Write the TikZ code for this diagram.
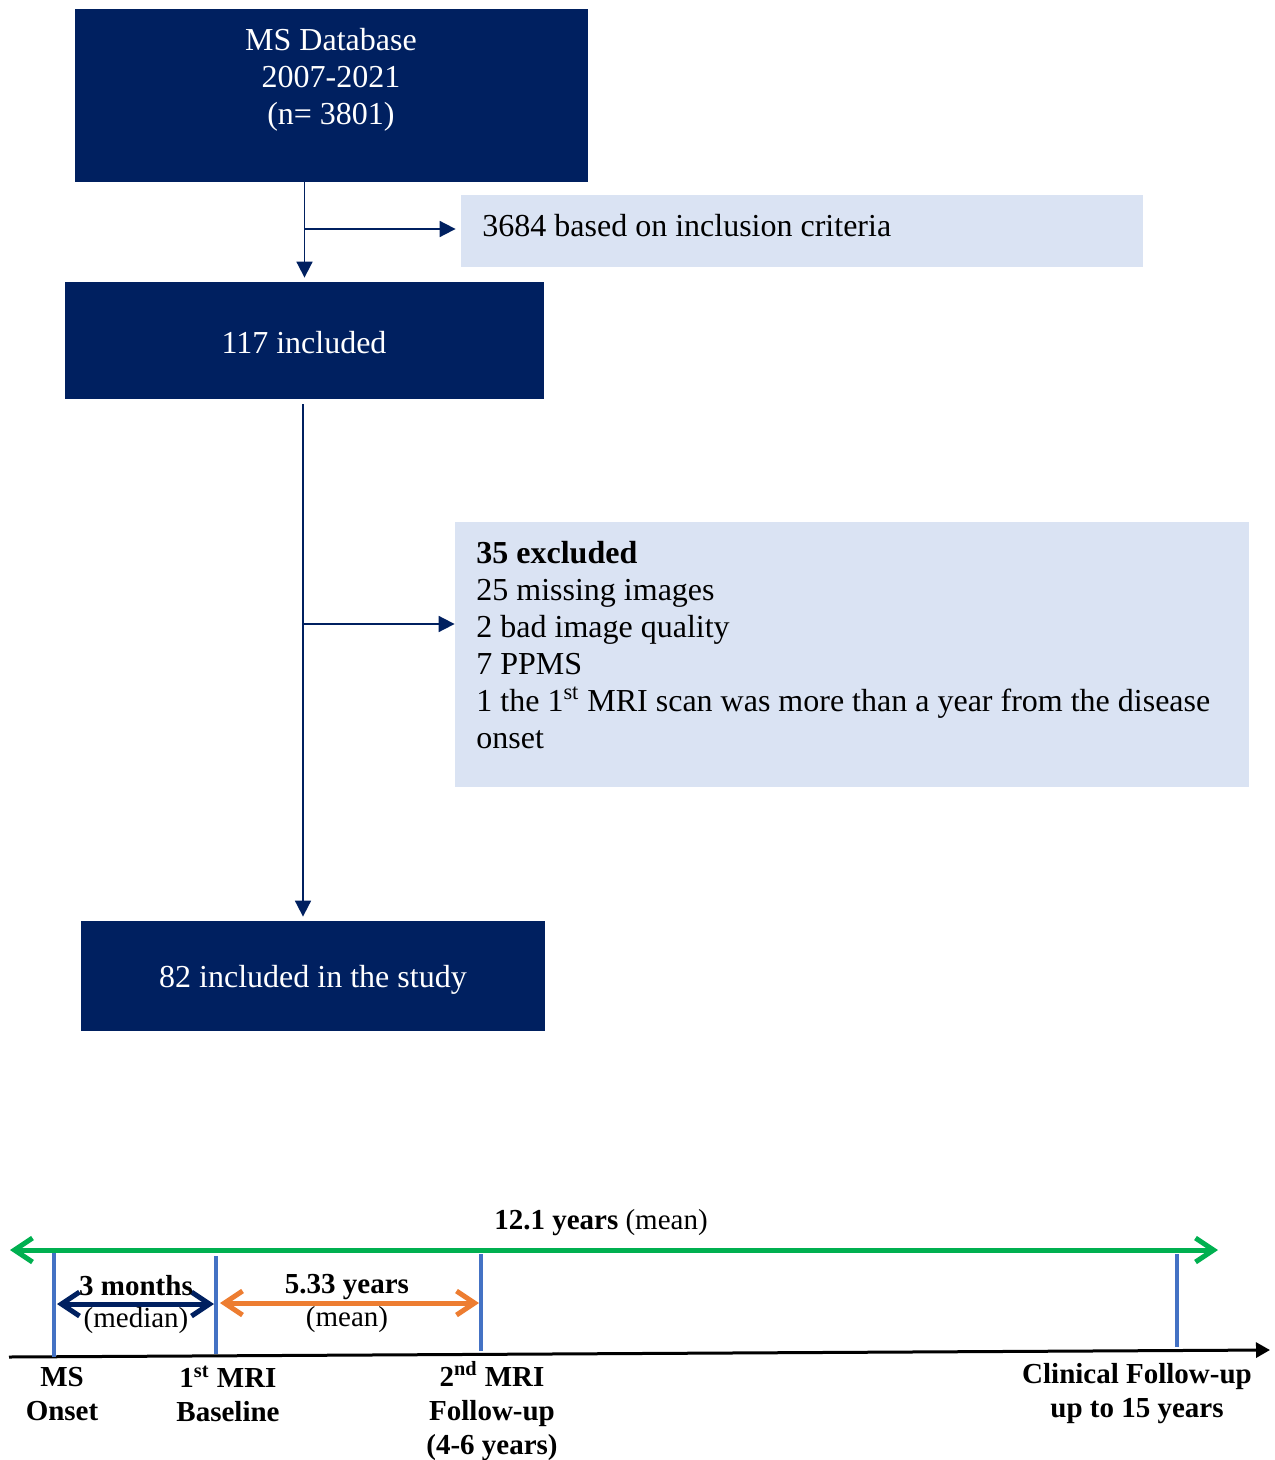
\documentclass[tikz,border=0pt]{standalone}
\usepackage{fontspec}
\setmainfont{Liberation Serif}
\usetikzlibrary{arrows.meta}

\definecolor{navy}{HTML}{002060}
\definecolor{paleblue}{HTML}{DAE3F3}
\definecolor{spangreen}{HTML}{00B050}
\definecolor{tickblue}{HTML}{4472C4}
\definecolor{spanorange}{HTML}{ED7D31}

\begin{document}
\begin{tikzpicture}[x=0.5pt,y=-0.5pt,
  darkbox/.style={fill=navy, draw=none, inner sep=0pt},
  palebox/.style={fill=paleblue, draw=none, inner sep=0pt},
  boxtext/.style={inner sep=0pt, font=\fontsize{16}{18.5}\selectfont},
  whitetext/.style={boxtext, text=white, align=center},
  flow/.style={draw=navy, line width=0.9pt, -{Triangle[length=8pt,width=8pt]}},
  tltext/.style={inner sep=0pt, align=center, font=\fontsize{14.5}{17}\selectfont},
  tlbold/.style={tltext, font=\fontsize{14.5}{17}\selectfont\bfseries},
  tick/.style={draw=tickblue, line width=2.3pt},
  axis/.style={draw=black, line width=1.5pt, -{Triangle[length=7pt,width=7.5pt]}},
  spanarrow/.style={line width=2.5pt, {Straight Barb[length=9pt,width=12pt]}-{Straight Barb[length=9pt,width=12pt]}}
]
\useasboundingbox (0,0) rectangle (1274,1460);

% ---------- flow chart ----------
\node[darkbox, minimum width=256.5pt, minimum height=86.5pt] (db) at (331.5,95.5) {};
\node[whitetext] (dbtext) at (331,80) {MS Database\\2007-2021\\(n= 3801)};

\node[palebox, minimum width=341pt, minimum height=36pt] (crit) at (802,231) {};
\node[boxtext, anchor=west] (crittext) at (482,226) {3684 based on inclusion criteria};

\node[darkbox, minimum width=239.5pt, minimum height=58.5pt] (incl) at (304.5,340.5) {};
\node[whitetext] (incltext) at (304,343) {117 included};

\node[palebox, minimum width=397pt, minimum height=132.5pt] (excl) at (852,654.5) {};
\node[boxtext, anchor=north west, align=left] (excltext) at (476,541)
  {\textbf{35 excluded}\\
   25 missing images\\
   2 bad image quality\\
   7 PPMS\\
   1 the 1\textsuperscript{st} MRI scan was more than a year from the disease\\
   onset};

\node[darkbox, minimum width=232pt, minimum height=55pt] (study) at (313,976) {};
\node[whitetext] (studytext) at (313,980) {82 included in the study};

% connectors
\coordinate (j1) at (305,229);
\coordinate (j2) at (303,624);
\draw[flow, shorten >=2pt] (db.south -| incl.north) -- (incl.north);
\draw[flow, shorten >=2.5pt] (j1) -- (j1 -| crit.west);
\draw[flow, shorten >=2pt] ([yshift=-2.5pt]incl.south -| j2) -- (j2 |- study.north);
\draw[flow] (j2) -- (j2 -| excl.west);

% ---------- timeline ----------
\coordinate (ax0) at (9,1357);
\coordinate (ax1) at (1270,1350);
\draw[axis] (ax0) -- (ax1);

\coordinate (gL) at (10,1250);
\coordinate (gR) at (1218,1250);
\draw[spanarrow, draw=spangreen] (gL) -- (gR);

\coordinate (t0) at (54,1253);
\coordinate (t1) at (216,1256);
\coordinate (t2) at (481,1254);
\coordinate (t3) at (1177,1254);
\draw[tick] (t0) -- (54,1357);
\draw[tick] (t1) -- (216,1354);
\draw[tick] (t2) -- (481,1351);
\draw[tick] (t3) -- (1177,1347);

\coordinate (nL) at (57,1304);
\coordinate (nR) at (214,1304);
\draw[spanarrow, draw=navy] (nL) -- (nR);
\coordinate (oL) at (220,1303);
\coordinate (oR) at (479,1303);
\draw[spanarrow, draw=spanorange] (oL) -- (oR);

\node[tltext] (total) at (601,1223) {\textbf{12.1 years} (mean)};
\node[tlbold] (gap1) at (136,1286) {3 months};
\node[tltext] (gap1b) at (136,1321) {(median)};
\node[tlbold] (gap2) at (347,1287) {5.33 years};
\node[tltext] (gap2b) at (347,1320) {(mean)};

\node[tlbold] (onset) at (62,1394) {MS\\Onset};
\node[tlbold] (mri1) at (228,1394) {1\textsuperscript{st} MRI\\Baseline};
\node[tlbold] (mri2) at (492,1411) {2\textsuperscript{nd} MRI\\Follow-up\\(4-6 years)};
\node[tlbold] (clin) at (1137,1394) {Clinical Follow-up\\up to 15 years};
\end{tikzpicture}
\end{document}
